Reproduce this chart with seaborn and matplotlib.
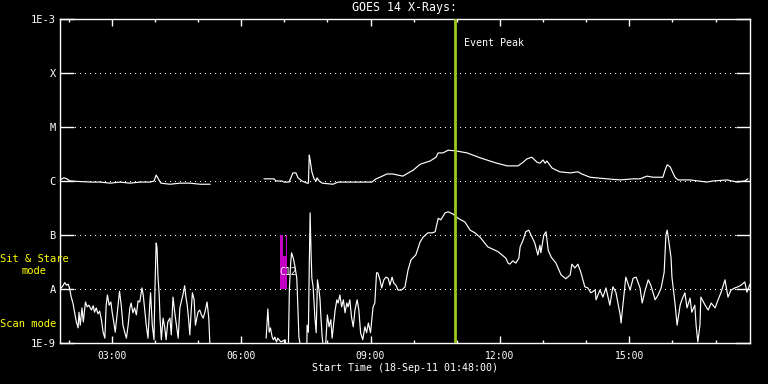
import numpy as np
import pandas as pd
import matplotlib
matplotlib.use("Agg")
import matplotlib.pyplot as plt
import seaborn as sns
from matplotlib.ticker import FixedLocator, NullLocator, MultipleLocator

nan = np.nan

# ---------------- data (hours of day, log10 flux W/m^2) ----------------
long_t = [1.80, 1.89, 1.96, 2.03, 2.26, 2.54, 2.73, 2.96, 3.19, 3.42, 3.66, 3.89, 3.98, 4.03, 4.08,
          4.14, 4.35, 4.58, 4.81, 5.05, 5.28, nan,
          6.53, 6.76, 6.81, 6.95, 6.99, 7.11, 7.16, 7.20, 7.27, 7.32, 7.41, 7.53, 7.56, 7.58, 7.60,
          7.64, 7.69, 7.74, 7.76, 7.81, 7.88, 8.13, 8.25, 8.52, 8.76, 9.03, 9.13, 9.22, 9.38, 9.52,
          9.75, 9.92, 9.99, 10.15, 10.38, 10.52, 10.57, 10.68, 10.80, 10.96, 11.24, 11.54, 11.77,
          11.93, 12.17, 12.42, 12.51, 12.63, 12.74, 12.86, 12.93, 13.00, 13.05, 13.09, 13.21, 13.39,
          13.63, 13.81, 13.90, 14.09, 14.48, 14.79, 15.09, 15.25, 15.41, 15.55, 15.78, 15.83, 15.88,
          15.95, 16.06, 16.13, 16.41, 16.80, 16.94, 17.27, 17.50, 17.68, 17.75]
long_log = [-5.98, -5.94, -5.96, -6.00, -6.01, -6.02, -6.02, -6.04, -6.02, -6.04, -6.02, -6.02, -6.00,
            -5.89, -5.96, -6.04, -6.06, -6.04, -6.04, -6.06, -6.06, nan,
            -5.96, -5.96, -6.00, -6.00, -6.02, -6.02, -5.93, -5.85, -5.85, -5.94, -6.00, -6.04, -6.04,
            -5.52, -5.61, -5.83, -5.96, -6.00, -5.94, -6.00, -6.04, -6.06, -6.02, -6.02, -6.02, -6.02,
            -5.96, -5.93, -5.87, -5.87, -5.91, -5.83, -5.80, -5.69, -5.63, -5.56, -5.48, -5.48, -5.43,
            -5.44, -5.48, -5.57, -5.63, -5.67, -5.72, -5.72, -5.67, -5.59, -5.56, -5.65, -5.67, -5.61,
            -5.67, -5.63, -5.76, -5.83, -5.85, -5.83, -5.87, -5.93, -5.96, -5.98, -5.96, -5.96, -5.91,
            -5.93, -5.93, -5.80, -5.70, -5.74, -5.93, -5.98, -5.98, -6.02, -6.00, -5.98, -6.02, -6.00,
            -5.96]

short_t = [1.83, 1.87, 1.91, 1.95, 1.99, 2.02, 2.06, 2.10, 2.14, 2.18, 2.22, 2.24, 2.27, 2.31, 2.34,
           2.39, 2.43, 2.47, 2.53, 2.57, 2.60, 2.64, 2.68, 2.72, 2.76, 2.80, 2.84, 2.87, 2.90, 2.94,
           2.98, 3.01, 3.05, 3.08, 3.13, 3.18, 3.22, 3.26, 3.30, 3.34, 3.38, 3.42, 3.45, 3.49, 3.53,
           3.57, 3.61, 3.65, 3.70, 3.73, 3.76, 3.80, 3.84, 3.88, 3.90, 3.94, 3.98, 4.00, 4.02, 4.03,
           4.05, 4.07, 4.10, 4.12, 4.15, 4.19, 4.23, 4.26, 4.30, 4.35, 4.38, 4.42, 4.46, 4.50, 4.54,
           4.58, 4.61, 4.65, 4.69, 4.72, 4.75, 4.78, 4.81, 4.84, 4.87, 4.91, 4.94, 5.00, 5.04, 5.08,
           5.12, 5.16, 5.21, 5.25, 5.29, nan,
           6.58, 6.62, 6.65, 6.68, 6.72, 6.75, 6.78, 6.82, 6.85, 6.92, 7.02, 7.09, 7.12, 7.15, 7.17,
           7.21, 7.25, 7.29, 7.31, 7.34, 7.43, 7.52, 7.53, 7.56, 7.58, 7.60, 7.62, 7.64, 7.67, 7.71,
           7.74, 7.77, 7.80, 7.83, 7.85, 7.88, 7.94, 8.00, 8.04, 8.08, 8.11, 8.18, 8.22, 8.25, 8.29,
           8.33, 8.37, 8.41, 8.45, 8.48, 8.52, 8.56, 8.60, 8.64, 8.69, 8.73, 8.77, 8.82, 8.87, 8.91,
           8.95, 9.00, 9.06, 9.10, 9.14, 9.17, 9.22, 9.26, 9.31, 9.36, 9.41, 9.45, 9.50, 9.54, 9.59,
           9.64, 9.71, 9.75, 9.80, 9.87, 9.94, 10.05, 10.15, 10.22, 10.33, 10.43, 10.50, 10.57, 10.63,
           10.73, 10.80, 10.91, 11.03, 11.19, 11.31, 11.42, 11.54, 11.72, 11.96, 12.14, 12.19, 12.23,
           12.30, 12.37, 12.44, 12.47, 12.54, 12.60, 12.67, 12.72, 12.81, 12.88, 12.93, 12.95, 13.02,
           13.07, 13.12, 13.19, 13.30, 13.42, 13.53, 13.63, 13.67, 13.74, 13.81, 13.88, 13.97, 14.04,
           14.11, 14.21, 14.23, 14.32, 14.39, 14.46, 14.55, 14.62, 14.69, 14.79, 14.81, 14.86, 14.92,
           15.02, 15.09, 15.16, 15.25, 15.30, 15.37, 15.44, 15.50, 15.60, 15.67, 15.74, 15.81, 15.85,
           15.88, 15.92, 15.97, 15.99, 16.06, 16.11, 16.18, 16.22, 16.29, 16.34, 16.41, 16.45, 16.52,
           16.55, 16.59, 16.64, 16.66, 16.76, 16.83, 16.90, 16.99, 17.06, 17.13, 17.22, 17.29, 17.36,
           17.45, 17.52, 17.59, 17.68, 17.73, 17.80]
short_log = [-7.98, -7.94, -7.88, -7.93, -7.91, -7.98, -8.15, -8.26, -8.44, -8.61, -8.72, -8.43, -8.67,
             -8.35, -8.61, -8.24, -8.33, -8.30, -8.39, -8.31, -8.43, -8.35, -8.46, -8.41, -8.57, -8.80,
             -8.91, -8.30, -8.11, -8.30, -8.24, -8.43, -8.63, -8.80, -8.43, -8.04, -8.30, -8.67, -8.80,
             -8.91, -8.67, -8.35, -8.26, -8.44, -8.35, -8.48, -8.22, -8.24, -7.98, -8.11, -8.35, -8.67,
             -8.91, -8.30, -8.07, -8.67, -8.94, -8.06, -7.43, -7.15, -7.24, -7.74, -8.11, -8.54, -8.94,
             -8.54, -8.72, -8.94, -8.61, -8.54, -8.85, -8.15, -8.43, -8.67, -8.91, -8.35, -8.24, -8.11,
             -7.94, -8.15, -8.30, -8.54, -8.85, -8.43, -8.07, -8.20, -8.67, -8.43, -8.39, -8.48, -8.54,
             -8.43, -8.24, -8.54, -9.30, nan,
             -8.91, -8.37, -8.80, -8.72, -8.89, -8.94, -8.89, -8.98, -8.91, -8.98, -8.94, -9.30, -7.98,
             -7.50, -7.33, -7.43, -7.59, -7.80, -8.20, -8.89, -9.30, -9.30, -8.67, -8.80, -7.59, -6.59,
             -7.28, -7.80, -7.96, -8.52, -8.81, -7.83, -7.98, -8.20, -8.52, -8.89, -9.30, -8.48, -8.70,
             -8.57, -8.91, -8.39, -8.20, -8.26, -8.11, -8.33, -8.20, -8.44, -8.26, -8.33, -8.20, -8.52,
             -8.70, -8.39, -8.20, -8.39, -8.81, -8.94, -8.70, -8.81, -8.63, -8.81, -8.33, -8.26, -7.70,
             -7.70, -7.83, -7.98, -7.83, -7.78, -7.80, -7.93, -7.78, -7.89, -7.93, -8.02, -8.02, -8.00,
             -7.96, -7.65, -7.46, -7.37, -7.13, -7.04, -6.96, -6.96, -6.94, -6.69, -6.72, -6.59, -6.57,
             -6.61, -6.69, -6.76, -6.91, -6.96, -7.04, -7.22, -7.31, -7.43, -7.52, -7.54, -7.48, -7.52,
             -7.43, -7.22, -7.09, -6.94, -6.91, -7.00, -7.15, -7.37, -7.19, -7.33, -7.00, -6.94, -7.28,
             -7.41, -7.52, -7.74, -7.81, -7.74, -7.54, -7.61, -7.54, -7.70, -7.96, -7.98, -8.07, -8.02,
             -8.20, -8.02, -8.15, -7.98, -8.30, -7.96, -8.06, -8.48, -8.63, -8.24, -7.78, -8.02, -7.80,
             -7.78, -7.98, -8.26, -8.02, -7.83, -7.93, -8.20, -8.11, -7.98, -7.69, -7.00, -6.91, -7.13,
             -7.43, -7.78, -8.26, -8.67, -8.30, -8.20, -8.07, -8.35, -8.17, -8.43, -8.30, -8.67, -8.98,
             -8.67, -8.15, -8.30, -8.39, -8.26, -8.35, -8.20, -8.06, -7.83, -8.15, -8.02, -7.98, -7.96,
             -7.93, -7.87, -8.06, -7.91]

# observation-mode bars (hours) and their flux extent
obs_start = [6.90, 7.03, 6.96]
obs_end = [6.96, 7.06, 7.03]
obs_low = [1e-8, 1e-8, 1e-8]
obs_high = [1e-7, 1e-7, 4.1e-8]
flare_label = "C12"
flare_t, flare_flux = 7.08, 2.1e-8

event_peak_t = 10.95
event_label = "Event Peak"

x_start, x_end = 1.8, 17.8
tick_hours = [3, 6, 9, 12, 15]
tick_labels = ["03:00", "06:00", "09:00", "12:00", "15:00"]
y_levels = [1e-9, 1e-8, 1e-7, 1e-6, 1e-5, 1e-4, 1e-3]
y_labels = ["1E-9", "A", "B", "C", "M", "X", "1E-3"]
title = "GOES 14 X-Rays:"
xlabel = "Start Time (18-Sep-11 01:48:00)"


def to_frame(t, v):
    n = min(len(t), len(v))
    t = np.asarray(t[:n], float)
    v = np.asarray(v[:n], float)
    seg = np.cumsum(np.isnan(v) | np.isnan(t))
    keep = ~(np.isnan(v) | np.isnan(t))
    return pd.DataFrame({"time": t[keep], "flux": np.power(10.0, v[keep]), "seg": seg[keep]})


df_long = to_frame(long_t, long_log)
df_short = to_frame(short_t, short_log)

sns.set_theme(style="dark", rc={"axes.facecolor": "black", "figure.facecolor": "black",
                                "savefig.facecolor": "black", "text.color": "white",
                                "axes.labelcolor": "white", "xtick.color": "white",
                                "ytick.color": "white"})
plt.rcParams["font.family"] = ["DejaVu Sans Mono", "DejaVu Sans"]

fig = plt.figure(figsize=(7.68, 3.84), dpi=100)
ax = fig.add_axes([60 / 768, 41 / 384, 690 / 768, 324 / 384])
ax.set_facecolor("black")

ax.set_yscale("log")
ax.set_ylim(1e-9, 1e-3)
ax.set_xlim(x_start, x_end)

ax.yaxis.set_major_locator(FixedLocator(y_levels))
ax.yaxis.set_minor_locator(NullLocator())
ax.set_yticklabels(y_labels)
ax.xaxis.set_major_locator(FixedLocator(tick_hours))
ax.xaxis.set_minor_locator(MultipleLocator(1))
ax.set_xticklabels(tick_labels)

ax.grid(False)
ax.yaxis.grid(True, which="major", color="white", linestyle=(0, (1, 5)), linewidth=0.72,
              antialiased=False)

for s, e, lo, hi in zip(obs_start, obs_end, obs_low, obs_high):
    ax.fill_between([s, e], [lo, lo], [hi, hi], color="#C400C4", linewidth=0, zorder=2)

sns.lineplot(data=df_short, x="time", y="flux", units="seg", estimator=None, sort=False,
             color="white", linewidth=0.85, ax=ax, legend=False, zorder=3)
sns.lineplot(data=df_long, x="time", y="flux", units="seg", estimator=None, sort=False,
             color="white", linewidth=0.85, ax=ax, legend=False, zorder=3)

ax.axvline(event_peak_t, color="#9CC820", linewidth=2.0, zorder=4)
ax.text(event_peak_t + 0.22, 10 ** -3.45, event_label, color="white", fontsize=7.2,
        ha="left", va="center")
ax.text(flare_t, flare_flux, flare_label, color="white", fontsize=7, ha="center", va="center",
        zorder=5)

ax.tick_params(axis="y", which="major", direction="in", length=10, width=1, left=True, right=True,
               labelsize=7.5, labelcolor="white", color="white", pad=3)
ax.tick_params(axis="x", which="major", direction="in", length=5, width=1, bottom=True, top=True,
               labelsize=7, labelcolor="white", color="white", pad=6)
ax.tick_params(axis="x", which="minor", direction="in", length=2.5, width=1, bottom=True, top=True,
               color="white")
for sp in ax.spines.values():
    sp.set_color("white")
    sp.set_linewidth(1)
    sp.set_visible(True)

ax.set_xlabel(xlabel, fontsize=7.2, color="white", labelpad=1)
ax.set_ylabel("")
fig.text(404 / 768, 1 - 8 / 384, title, ha="center", va="center", fontsize=8.4, color="white")

fig.text(34 / 768, 1 - 259 / 384, "Sit & Stare", ha="center", va="center", fontsize=7.5,
         color="#FFFF00")
fig.text(34 / 768, 1 - 271 / 384, "mode", ha="center", va="center", fontsize=7.5, color="#FFFF00")
fig.text(28 / 768, 1 - 324 / 384, "Scan mode", ha="center", va="center", fontsize=7.5,
         color="#FFFF00")

fig.savefig("out.png", dpi=100, facecolor="black")
